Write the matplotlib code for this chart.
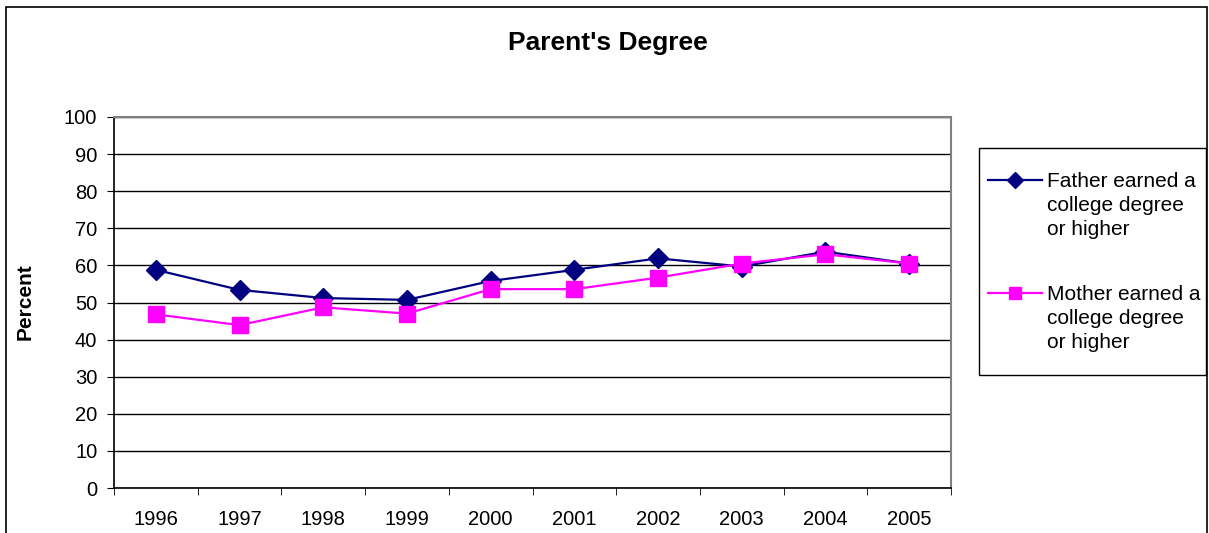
import matplotlib
matplotlib.use("Agg")
import matplotlib.pyplot as plt
from matplotlib.patches import Rectangle
from matplotlib.lines import Line2D
import numpy as np

plt.rcParams['font.family'] = ['Liberation Sans', 'DejaVu Sans']

# data
years = ['1996', '1997', '1998', '1999', '2000', '2001', '2002', '2003', '2004', '2005']
father = [58.8, 53.4, 51.2, 50.7, 55.8, 58.8, 61.9, 59.7, 63.7, 60.5]
mother = [46.8, 43.9, 48.7, 47.0, 53.6, 53.6, 56.7, 60.5, 63.0, 60.5]
yticks = list(range(0, 101, 10))
labels = ['Father earned a\ncollege degree\nor higher',
          'Mother earned a\ncollege degree\nor higher']

W, H = 1209, 533
fig = plt.figure(figsize=(W / 100, H / 100), dpi=100)

# outer chart border
fig.patches.append(Rectangle((6 / W, -0.02), (1207 - 6) / W, 1 - 7 / H + 0.02,
                             transform=fig.transFigure, fill=False,
                             edgecolor='black', linewidth=1.2))

ax = fig.add_axes([114 / W, 1 - 488 / H, (951 - 114) / W, (488 - 117) / H])

x = np.arange(len(years))
styles = [dict(color='#000080', marker='D', ms=10, zorder=3),
          dict(color='#FF00FF', marker='s', ms=11, zorder=4)]
for vals, st in zip([father, mother], styles):
    ax.plot(x, vals, color=st['color'], linewidth=1.6, marker=st['marker'],
            markersize=st['ms'], zorder=st['zorder'])

ax.set_xlim(-0.5, len(years) - 0.5)
ax.set_ylim(0, 100)
ax.set_yticks(yticks)
ax.set_yticklabels([str(v) for v in yticks], fontsize=14.5)
ax.set_xticks(x)
ax.set_xticklabels(years, fontsize=14.5)
ax.set_xticks(np.arange(-0.5, len(years)), minor=True)
ax.tick_params(axis='x', which='major', length=0, pad=16)
ax.tick_params(axis='x', which='minor', length=5, direction='out', color='black')
ax.tick_params(axis='y', length=5, direction='out', pad=7, color='black')

ax.yaxis.grid(True, color='black', linewidth=1)
ax.set_axisbelow(True)
for side in ['top', 'right']:
    ax.spines[side].set_color('#808080')
    ax.spines[side].set_linewidth(1.5)
for side in ['left', 'bottom']:
    ax.spines[side].set_color('black')
    ax.spines[side].set_linewidth(1.2)

fig.text(608 / W, 1 - 43 / H, "Parent's Degree", ha='center', va='center',
         fontsize=19, fontweight='bold')
fig.text(25 / W, 1 - 302 / H, 'Percent', ha='center', va='center',
         rotation=90, fontsize=15, fontweight='bold')

# legend, Excel style: handle level with the first text line
fig.patches.append(Rectangle((979 / W, 1 - 375 / H), (1206 - 979) / W, (375 - 148) / H,
                             transform=fig.transFigure, fill=False,
                             edgecolor='black', linewidth=1))
for i, (lab, st) in enumerate(zip(labels, styles)):
    yl = 180 + i * 113
    fig.add_artist(Line2D([988 / W, 1042 / W], [1 - yl / H, 1 - yl / H],
                          transform=fig.transFigure, color=st['color'],
                          linewidth=1.6))
    fig.add_artist(Line2D([1015 / W], [1 - yl / H], transform=fig.transFigure,
                          color=st['color'], marker=st['marker'],
                          markersize=st['ms'] * 0.85, linestyle='none'))
    fig.text(1047 / W, 1 - (yl - 8) / H, lab, ha='left', va='top',
             fontsize=15, linespacing=1.33)

fig.savefig('out.png', dpi=100)
